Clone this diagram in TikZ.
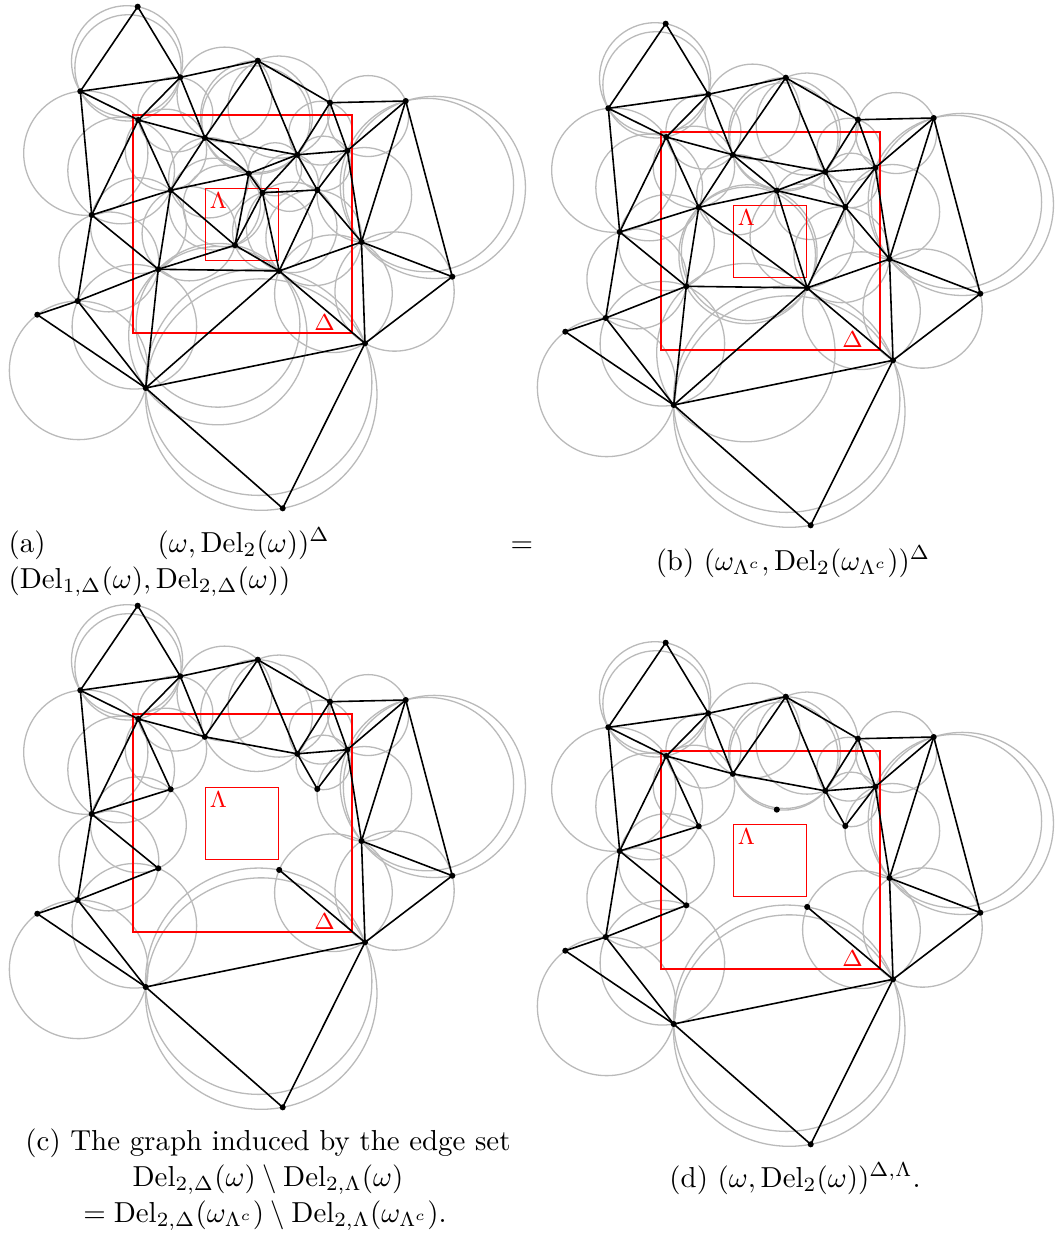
\documentclass[tikz,border=0pt]{standalone}
\tikzset{
 edge/.style={black, line width=0.55pt},
 circ/.style={draw=black!27, line width=0.45pt},
 boxr/.style={draw=red, line width=0.6pt},
 lbl/.style={red, font=\fontsize{8}{10}\selectfont, inner sep=0pt},
 capw/.style={anchor=base west, inner sep=0pt},
 capm/.style={anchor=base, inner sep=0pt},
}
\newcommand\ptsdata{1/137.7/6.7,2/180.3/77.3,3/80.3/91.3,4/257.8/60.7,5/138.3/120.0,6/204.8/137.8,7/248.8/173.6,8/170.7/190.3,9/262.5/192.7,10/91.7/215.0,11/235.0/245.2,12/330.0/102.7,13/405.7/101.0,14/297.3/154.8,15/347.3/150.7,16/317.3/190.0,17/279.2/270.9,18/361.5/242.0,19/452.3/276.7,20/158.3/269.3,21/77.7/301.0,22/37.3/314.7,23/365.0/343.3,24/145.7/388.0,25/282.7/508.3}
\foreach \n/\x/\y in \ptsdata {\expandafter\xdef\csname px\n\endcsname{\x}\expandafter\xdef\csname py\n\endcsname{\y}}
% triangles
\newcommand\triCommon{1/2/3,2/3/5,2/4/6,2/5/6,3/5/10,5/6/8,5/8/10,4/6/14,4/12/14,6/7/14,6/7/8,8/10/20,12/13/15,12/14/15,14/15/16,15/16/18,13/15/18,13/18/19,16/17/18,17/18/23,18/19/23,17/20/24,17/23/24,23/24/25,10/20/21,20/21/24,21/22/24}
\newcommand\triCommonC{1/2/3,2/3/5,2/4/6,2/5/6,3/5/10,5/6/8,5/8/10,4/6/14,4/12/14,6/7/8,8/10/20,12/13/15,12/14/15,14/15/16,15/16/18,13/15/18,13/18/19,16/17/18,17/18/23,18/19/23,17/20/24,17/23/24,23/24/25,10/20/21,20/21/24,21/22/24}
\newcommand\triHoleA{7/8/11,7/9/11,7/9/14,8/11/20,9/14/16,9/16/17,9/11/17,11/17/20}
\newcommand\triHoleB{7/14/16,7/16/17,7/8/17,8/17/20}
% edges
\newcommand\edgCommon{1/3,1/2,2/3,3/5,3/10,2/5,2/4,2/6,4/6,4/14,4/12,5/6,5/8,5/10,6/8,6/7,6/14,7/8,7/14,8/10,8/20,10/21,10/20,12/13,12/14,12/15,13/15,13/18,13/19,14/15,14/16,15/16,15/18,16/17,16/18,17/18,17/20,17/23,17/24,18/19,18/23,19/23,20/21,20/24,21/22,21/24,22/24,23/24,23/25,24/25}
\newcommand\edgA{7/9,7/11,8/11,9/11,9/14,9/16,9/17,11/17,11/20}
\newcommand\edgB{7/16,7/17,8/17}
\newcommand\edgCD{1/3,1/2,2/3,3/5,3/10,2/5,2/4,2/6,4/6,4/14,4/12,5/6,5/8,5/10,6/14,8/10,10/21,10/20,12/13,12/14,12/15,13/15,13/18,13/19,14/15,14/16,15/16,15/18,17/23,18/19,18/23,19/23,20/21,21/22,21/24,22/24,23/24,23/25,24/25}
% circumcircle of three stored points; #1=0 draw always, #1=1 draw only if the disc misses Lambda
\newcommand\circum[4]{%
 \pgfmathsetmacro\qax{\csname px#2\endcsname/100}%
 \pgfmathsetmacro\qay{\csname py#2\endcsname/100}%
 \pgfmathsetmacro\qbx{\csname px#3\endcsname/100}%
 \pgfmathsetmacro\qby{\csname py#3\endcsname/100}%
 \pgfmathsetmacro\qcx{\csname px#4\endcsname/100}%
 \pgfmathsetmacro\qcy{\csname py#4\endcsname/100}%
 \pgfmathsetmacro\qd{2*(\qax*(\qby-\qcy)+\qbx*(\qcy-\qay)+\qcx*(\qay-\qby))}%
 \pgfmathsetmacro\qA{\qax*\qax+\qay*\qay}%
 \pgfmathsetmacro\qB{\qbx*\qbx+\qby*\qby}%
 \pgfmathsetmacro\qC{\qcx*\qcx+\qcy*\qcy}%
 \pgfmathsetmacro\qux{(\qA*(\qby-\qcy)+\qB*(\qcy-\qay)+\qC*(\qay-\qby))/\qd}%
 \pgfmathsetmacro\quy{(\qA*(\qcx-\qbx)+\qB*(\qax-\qcx)+\qC*(\qbx-\qax))/\qd}%
 \pgfmathsetmacro\qr{sqrt((\qux-\qax)*(\qux-\qax)+(\quy-\qay)*(\quy-\qay))}%
 \pgfmathsetmacro\qdx{max(2.055-\qux,0,\qux-2.785)}%
 \pgfmathsetmacro\qdy{max(1.885-\quy,0,\quy-2.605)}%
 \pgfmathtruncatemacro\qhit{(\qdx*\qdx+\qdy*\qdy<\qr*\qr)}%
 \pgfmathsetmacro\qpx{100*\qux}%
 \pgfmathsetmacro\qpy{-100*\quy}%
 \pgfmathsetmacro\qpr{100*\qr}%
 \ifnum#1=0 \draw[circ] (\qpx,\qpy) circle[radius=\qpr];%
 \else\ifnum\qhit=0 \draw[circ] (\qpx,\qpy) circle[radius=\qpr];\fi\fi
}
\newcommand\boxes[1]{%
 \draw[boxr] (133.3,-115) rectangle (351.7,-333);
 \draw[boxr] (205.5,-188.5) rectangle (278.5,-260.5);
 \node[lbl] (#1Lam) at (218.5,-200.5) {$\Lambda$};
 \node[lbl] (#1Del) at (324.5,-323) {$\Delta$};
}
\begin{document}
\begin{tikzpicture}[x=0.346pt,y=0.346pt]
\useasboundingbox (0,0) rectangle (1057,-1238);
% ---------------- (a)
\begin{scope}
 \foreach \n/\x/\y in \ptsdata {\coordinate (a\n) at (\x,-\y);}
 \foreach \p/\q/\r in \triCommon {\circum{0}{\p}{\q}{\r}}
 \foreach \p/\q/\r in \triHoleA {\circum{0}{\p}{\q}{\r}}
 \boxes{a}
 \foreach \p/\q in \edgCommon {\draw[edge] (a\p) -- (a\q);}
 \foreach \p/\q in \edgA {\draw[edge] (a\p) -- (a\q);}
 \foreach \n in {1,...,25} {\fill (a\n) circle[radius=1.05pt];}
\end{scope}
% ---------------- (b)
\begin{scope}[shift={(528,-17)}]
 \foreach \n/\x/\y in \ptsdata {\coordinate (b\n) at (\x,-\y);}
 \foreach \p/\q/\r in \triCommon {\circum{0}{\p}{\q}{\r}}
 \foreach \p/\q/\r in \triHoleB {\circum{0}{\p}{\q}{\r}}
 \boxes{b}
 \foreach \p/\q in \edgCommon {\draw[edge] (b\p) -- (b\q);}
 \foreach \p/\q in \edgB {\draw[edge] (b\p) -- (b\q);}
 \foreach \n in {1,...,8,10,12,13,...,25} {\fill (b\n) circle[radius=1.05pt];}
\end{scope}
% ---------------- (c)
\begin{scope}[shift={(0,-599)}]
 \foreach \n/\x/\y in \ptsdata {\coordinate (c\n) at (\x,-\y);}
 \foreach \p/\q/\r in \triCommonC {\circum{1}{\p}{\q}{\r}}
 \boxes{c}
 \foreach \p/\q in \edgCD {\draw[edge] (c\p) -- (c\q);}
 \foreach \n in {1,...,6,8,10,12,13,...,25} {\fill (c\n) circle[radius=1.05pt];}
\end{scope}
% ---------------- (d)
\begin{scope}[shift={(528,-636)}]
 \foreach \n/\x/\y in \ptsdata {\coordinate (d\n) at (\x,-\y);}
 \foreach \p/\q/\r in \triCommon {\circum{1}{\p}{\q}{\r}}
 \boxes{d}
 \foreach \p/\q in \edgCD {\draw[edge] (d\p) -- (d\q);}
 \foreach \n in {1,...,8,10,12,13,...,25} {\fill (d\n) circle[radius=1.05pt];}
\end{scope}
% ---------------- captions
\node[capw] (capa1) at (8,-552) {(a)};
\node[capw] (capa2) at (157,-552) {$(\omega,\mathrm{Del}_2(\omega))^{\Delta}$};
\node[capw] (capa3) at (510,-552) {$=$};
\node[capw] (capa4) at (8,-588) {$(\mathrm{Del}_{1,\Delta}(\omega),\mathrm{Del}_{2,\Delta}(\omega))$};
\node[capm] (capb) at (793,-570) {(b)\ $(\omega_{\Lambda^c},\mathrm{Del}_2(\omega_{\Lambda^c}))^{\Delta}$};
\node[capm] (capc1) at (268,-1150) {(c) The graph induced by the edge set};
\node[capm] (capc2) at (268,-1186) {$\mathrm{Del}_{2,\Delta}(\omega)\setminus\mathrm{Del}_{2,\Lambda}(\omega)$};
\node[capm] (capc3) at (265,-1222) {$=\mathrm{Del}_{2,\Delta}(\omega_{\Lambda^c})\setminus\mathrm{Del}_{2,\Lambda}(\omega_{\Lambda^c})$.};
\node[capm] (capd) at (795,-1187) {(d)\ $(\omega,\mathrm{Del}_2(\omega))^{\Delta,\Lambda}$.};
\end{tikzpicture}
\end{document}
